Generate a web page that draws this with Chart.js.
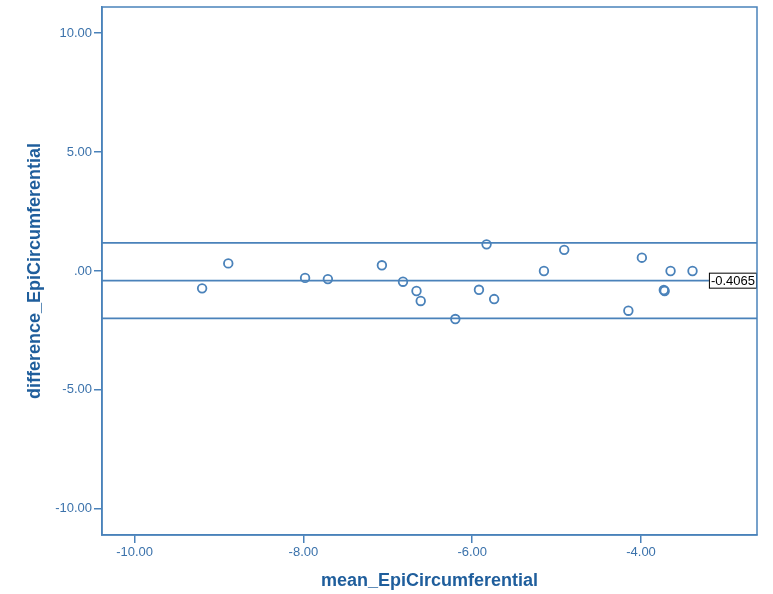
<!DOCTYPE html>
<html>
<head>
<meta charset="utf-8">
<script src="https://cdn.jsdelivr.net/npm/chart.js@4"></script>
<style>
  html, body { margin: 0; padding: 0; background: #fff; }
  #wrap { width: 773px; height: 594px; }
</style>
</head>
<body>
<div id="wrap"><canvas id="ba"></canvas></div>
<script>
'use strict';

// Bland-Altman: mean vs difference (EpiCircumferential)
const meanVals = [-9.20, -8.89, -7.98, -7.71, -7.07, -6.82, -6.66, -6.61, -6.20, -5.92,
                  -5.83, -5.74, -5.15, -4.91, -3.99, -4.15, -3.73, -3.72, -3.65, -3.39];
const diffVals = [-0.73, 0.32, -0.29, -0.34, 0.24, -0.45, -0.84, -1.26, -2.02, -0.79,
                  1.12, -1.18, 0.00, 0.89, 0.56, -1.67, -0.80, -0.84, 0.00, 0.00];

// reference lines: upper limit, mean difference, lower limit
const limitVals = [1.18, -0.4065, -1.99];
const meanLabel = '-0.4065';

const xRange = [-10.386, -2.626];
const yRange = [-11.1, 11.1];
const xTicks = [-10, -8, -6, -4];
const xTickLabels = ['-10.00', '-8.00', '-6.00', '-4.00'];
const yTicks = [-10, -5, 0, 5, 10];
const yTickLabels = ['-10.00', '-5.00', '.00', '5.00', '10.00'];

const blue = '#4a82ba';
const tickBlue = '#3b72ab';
const titleBlue = '#1f5e9c';

const points = meanVals.map((m, i) => ({ x: m, y: diffVals[i] }));

const lineSets = limitVals.map(v => ({
    type: 'line',
    data: [{ x: xRange[0], y: v }, { x: xRange[1], y: v }],
    borderColor: blue,
    borderWidth: 1.7,
    pointRadius: 0,
    fill: false
}));

// label box for the mean line, drawn at the right edge
const meanTag = {
    id: 'meanTag',
    afterDatasetsDraw(chart) {
        const ctx = chart.ctx;
        const y = chart.scales.y.getPixelForValue(limitVals[1]);
        const right = chart.chartArea.right;
        ctx.save();
        ctx.font = '13px "Liberation Sans", Arial, sans-serif';
        const w = ctx.measureText(meanLabel).width + 4;
        const h = 16;
        ctx.fillStyle = '#fff';
        ctx.fillRect(right - w, y - h / 2, w, h);
        ctx.strokeStyle = '#000';
        ctx.lineWidth = 1;
        ctx.strokeRect(right - w + 0.5, y - h / 2 + 0.5, w - 1, h - 1);
        ctx.fillStyle = '#000';
        ctx.textBaseline = 'middle';
        ctx.textAlign = 'left';
        ctx.fillText(meanLabel, right - w + 2, y + 1);
        ctx.restore();
    }
};

const tickFont = { family: '"Liberation Sans", Arial, sans-serif', size: 13 };
const titleFont = { family: '"Liberation Sans", Arial, sans-serif', size: 18, weight: 'bold' };

new Chart(document.getElementById('ba'), {
    type: 'scatter',
    data: {
        datasets: [{
            data: points,
            borderColor: blue,
            backgroundColor: 'rgba(0,0,0,0)',
            borderWidth: 1.8,
            pointRadius: 4.3,
            pointHoverRadius: 4.3
        }].concat(lineSets)
    },
    options: {
        responsive: true,
        maintainAspectRatio: false,
        animation: false,
        layout: { padding: { left: 0, right: 16, top: 7, bottom: 0 } },
        plugins: {
            legend: { display: false },
            tooltip: { enabled: false }
        },
        scales: {
            x: {
                type: 'linear',
                min: xRange[0],
                max: xRange[1],
                afterBuildTicks: s => { s.ticks = xTicks.map(v => ({ value: v })); },
                afterFit: s => { s.height = 59; s.paddingLeft = 0; s.paddingRight = 0; },
                ticks: {
                    color: tickBlue,
                    font: tickFont,
                    padding: 2,
                    maxRotation: 0,
                    callback: (v) => xTickLabels[xTicks.indexOf(v)]
                },
                grid: { drawOnChartArea: false, drawTicks: true, tickLength: 8, color: blue, lineWidth: 1.5 },
                border: { display: true, color: blue, width: 1.5 },
                title: {
                    display: true,
                    text: 'mean_EpiCircumferential',
                    color: titleBlue,
                    font: titleFont,
                    padding: { top: 0, bottom: 2 }
                }
            },
            y: {
                type: 'linear',
                min: yRange[0],
                max: yRange[1],
                afterBuildTicks: s => { s.ticks = yTicks.map(v => ({ value: v })); },
                afterFit: s => { s.width = 102; s.paddingTop = 0; s.paddingBottom = 0; },
                ticks: {
                    color: tickBlue,
                    font: tickFont,
                    padding: 2,
                    callback: (v) => yTickLabels[yTicks.indexOf(v)]
                },
                grid: { drawOnChartArea: false, drawTicks: true, tickLength: 8, color: blue, lineWidth: 1.5 },
                border: { display: true, color: blue, width: 1.5 },
                title: {
                    display: true,
                    text: 'difference_EpiCircumferential',
                    color: titleBlue,
                    font: titleFont,
                    padding: { top: 24, bottom: 0 }
                }
            }
        }
    },
    plugins: [meanTag, {
        id: 'frame',
        afterDraw(chart) {
            const a = chart.chartArea;
            const ctx = chart.ctx;
            ctx.save();
            ctx.strokeStyle = blue;
            ctx.lineWidth = 1.5;
            ctx.strokeRect(a.left, a.top, a.right - a.left, a.bottom - a.top);
            ctx.restore();
        }
    }]
});
</script>
</body>
</html>
